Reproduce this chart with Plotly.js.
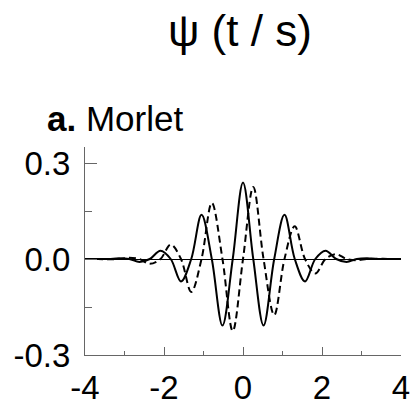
<!DOCTYPE html>
<html>
<head>
<meta charset="utf-8">
<script src="https://cdn.plot.ly/plotly-3.0.1.min.js"></script>
<style>html,body{margin:0;padding:0;background:#fff;}#chart{width:410px;height:405px;}</style>
</head>
<body>
<div id="chart"></div>
<script>
// time axis (t / s)
var tValues = [-4, -3.67, -3.4, -3.14, -2.88, -2.62, -2.36, -2.09, -1.83, -1.57, -1.31, -1.05, -0.79, -0.52, -0.26, 0,
               0.26, 0.52, 0.79, 1.05, 1.31, 1.57, 1.83, 2.09, 2.36, 2.62, 2.88, 3.14, 3.4, 3.67, 4];
// real part (solid)
var realPart = [0, 0, 0, 0.002, 0, -0.009, 0, 0.026, 0, -0.070, 0, 0.138, 0, -0.208, 0, 0.239,
                0, -0.208, 0, 0.138, 0, -0.070, 0, 0.026, 0, -0.009, 0, 0.002, 0, 0, 0];
// imaginary part (dashed)
var imagPart = [0, 0, -0.001, 0, 0.004, 0, -0.015, 0, 0.045, 0, -0.103, 0, 0.175, 0, -0.225, 0,
                0.225, 0, -0.175, 0, 0.102, 0, -0.045, 0, 0.015, 0, -0.004, 0, 0.001, 0, 0];
var xTickVals = [-4, -2, 0, 2, 4];
var xTickText = ['-4', '-2', '0', '2', '4'];
var xMinorVals = [-3, -1, 1, 3];
var yTickVals = [-0.3, 0, 0.3];
var yTickText = ['-0.3', '0.0', '0.3'];
var yMinorVals = [-0.15, 0.15];
var titleText = 'ψ (t / s)';
var panelText = '<b>a.</b> Morlet';

var fontFam = 'Liberation Sans, Arial, sans-serif';
var traces = [
  {x: tValues, y: realPart, mode: 'lines', line: {color: '#000', width: 2, shape: 'spline', smoothing: 1}, hoverinfo: 'skip'},
  {x: tValues, y: imagPart, mode: 'lines', line: {color: '#000', width: 2, dash: '7px,4px', shape: 'spline', smoothing: 1}, hoverinfo: 'skip'}
];
var layout = {
  width: 410, height: 405,
  margin: {l: 85, r: 9, t: 147, b: 50, pad: 0},
  paper_bgcolor: '#fff', plot_bgcolor: '#fff',
  showlegend: false,
  font: {family: fontFam, size: 33, color: '#000'},
  xaxis: {
    range: [-4, 4], showgrid: false, zeroline: false,
    showline: true, linecolor: '#666', linewidth: 1,
    tickmode: 'array', tickvals: xTickVals, ticktext: xTickText,
    ticks: 'inside', ticklen: 8, tickcolor: '#666', tickwidth: 1,
    ticklabeloverflow: 'allow', ticklabelstandoff: 3,
    minor: {tickmode: 'array', tickvals: xMinorVals, ticks: 'inside', ticklen: 4, tickcolor: '#666', showgrid: false},
    tickfont: {family: fontFam, size: 33, color: '#000'}
  },
  yaxis: {
    range: [-0.3, 0.35], showgrid: false,
    zeroline: true, zerolinecolor: '#000', zerolinewidth: 1,
    showline: true, linecolor: '#666', linewidth: 1,
    tickmode: 'array', tickvals: yTickVals, ticktext: yTickText,
    ticks: 'inside', ticklen: 12, tickcolor: '#666', tickwidth: 1,
    ticklabeloverflow: 'allow', ticklabelstandoff: 7,
    minor: {tickmode: 'array', tickvals: yMinorVals, ticks: 'inside', ticklen: 7, tickcolor: '#666', showgrid: false},
    tickfont: {family: fontFam, size: 33, color: '#000'}
  },
  annotations: [
    {text: titleText, xref: 'paper', yref: 'paper', x: 0.49, y: 1.56, xanchor: 'center', yanchor: 'middle',
     showarrow: false, font: {family: fontFam, size: 44, color: '#000'}},
    {text: panelText, xref: 'paper', yref: 'paper', x: -0.128, y: 1.135, xanchor: 'left', yanchor: 'middle',
     showarrow: false, font: {family: fontFam, size: 35, color: '#000'}}
  ]
};
Plotly.newPlot('chart', traces, layout, {displayModeBar: false, staticPlot: true});
</script>
</body>
</html>
